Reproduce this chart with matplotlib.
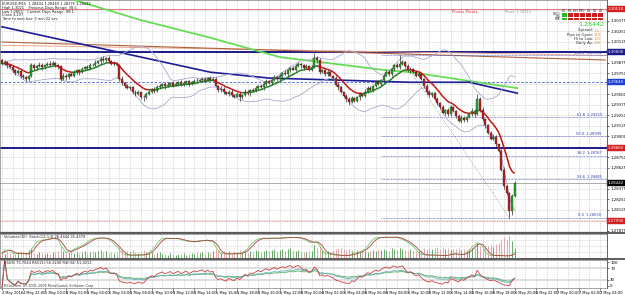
import numpy as np
import pandas as pd
import matplotlib
matplotlib.use("Agg")
import matplotlib.pyplot as plt
from matplotlib.collections import LineCollection
from matplotlib.patches import Rectangle

# prices are stored as pips above 1.2800
BASE = 1.2800
PIP = 0.0001

first_open = 190
closes = [
    186, 188, 184, 182, 178, 175, 177, 172, 170, 168,
    171, 184, 181, 183, 185, 182, 184, 186, 185, 187,
    184, 183, 168, 172, 170, 174, 172, 176, 178, 176,
    180, 182, 181, 185, 184, 187, 189, 192, 190, 193,
    189, 186, 187, 184, 168, 163, 160, 157, 158, 153,
    150, 152, 147, 146, 150, 153, 156, 154, 158, 160,
    162, 159, 161, 163, 160, 162, 164, 161, 163, 165,
    162, 164, 166, 165, 167, 168, 166, 169, 167, 168,
    160, 155, 156, 152, 150, 153, 149, 147, 150, 146,
    149, 153, 151, 155, 154, 157, 160, 158, 162, 165,
    163, 167, 170, 168, 172, 175, 174, 178, 181, 179,
    183, 186, 184, 181, 183, 179, 182, 193, 190, 176,
    178, 174, 176, 172, 169, 161, 158, 152, 148, 144,
    141, 145, 142, 146, 150, 148, 153, 157, 155, 160,
    164, 162, 167, 172, 176, 174, 180, 184, 182, 186,
    188, 183, 178, 180, 176, 172, 174, 168, 160, 152,
    149, 151, 144, 139, 134, 128, 131, 126, 134, 130,
    124, 118, 122, 119, 123, 126, 130, 126, 144, 131,
    120, 113, 104, 97, 99, 90, 82, 60, 40, 32,
    11, 29, 44,
]
upper_wick = [
    2, 3, 1, 2, 1, 2, 3, 1, 2, 1,
    2, 3, 2, 1, 3, 2, 1, 2, 3, 2,
    1, 2, 1, 3, 2, 1, 2, 3, 1, 2,
    2, 1, 3, 2, 1, 3, 2, 2, 3, 1,
    2, 1, 2, 1, 2, 3, 1, 2, 2, 1,
    2, 3, 1, 2, 3, 2, 1, 2, 3, 2,
    1, 2, 3, 1, 2, 2, 1, 3, 2, 1,
    2, 1, 2, 3, 1, 2, 2, 1, 3, 2,
    2, 1, 3, 2, 1, 2, 3, 1, 2, 2,
    1, 3, 2, 1, 2, 3, 1, 2, 2, 3,
    2, 1, 3, 2, 2, 1, 3, 2, 1, 2,
    3, 2, 1, 2, 3, 2, 2, 6, 2, 3,
    2, 1, 3, 2, 1, 2, 3, 2, 1, 2,
    2, 3, 1, 2, 2, 1, 3, 2, 2, 1,
    2, 3, 1, 2, 3, 2, 1, 2, 3, 10,
    2, 1, 3, 2, 1, 2, 3, 2, 1, 2,
    3, 2, 1, 2, 2, 3, 1, 2, 3, 2,
    1, 2, 3, 2, 1, 2, 3, 2, 6, 2,
    3, 2, 1, 2, 3, 2, 1, 2, 3, 2,
    1, 2, 3,
]
lower_wick = [
    1, 2, 3, 1, 2, 2, 1, 3, 2, 2,
    3, 1, 2, 2, 1, 3, 2, 1, 2, 1,
    2, 3, 2, 1, 3, 2, 1, 2, 2, 3,
    1, 2, 2, 3, 1, 2, 1, 3, 2, 2,
    1, 2, 3, 1, 2, 2, 3, 1, 2, 3,
    2, 1, 3, 4, 2, 1, 2, 3, 1, 2,
    2, 3, 1, 2, 2, 1, 3, 2, 1, 2,
    3, 1, 2, 2, 1, 3, 2, 1, 2, 2,
    1, 2, 3, 2, 1, 2, 3, 2, 1, 4,
    2, 1, 2, 3, 1, 2, 2, 1, 3, 2,
    1, 2, 2, 3, 1, 2, 1, 3, 2, 1,
    2, 1, 3, 2, 1, 2, 2, 1, 3, 2,
    1, 3, 2, 1, 2, 2, 3, 1, 2, 3,
    4, 2, 1, 2, 3, 1, 2, 2, 1, 3,
    2, 1, 3, 2, 1, 2, 2, 3, 1, 2,
    1, 2, 2, 3, 1, 2, 2, 1, 3, 2,
    2, 3, 1, 2, 2, 1, 3, 2, 2, 1,
    2, 1, 3, 2, 2, 1, 2, 3, 1, 2,
    2, 3, 1, 2, 2, 3, 1, 2, 3, 2,
    8, 5, 2,
]
volumes = [
    22, 18, 25, 20, 30, 15, 24, 28, 19, 26,
    35, 40, 22, 18, 25, 20, 16, 22, 18, 24,
    26, 30, 48, 28, 22, 25, 30, 20, 26, 22,
    24, 28, 21, 26, 30, 24, 28, 32, 25, 30,
    22, 26, 20, 24, 45, 35, 30, 28, 24, 32,
    26, 22, 30, 34, 25, 20, 24, 18, 22, 26,
    15, 18, 14, 20, 16, 12, 18, 15, 20, 14,
    16, 22, 18, 25, 20, 24, 18, 26, 22, 28,
    38, 32, 26, 30, 24, 28, 22, 30, 26, 32,
    24, 28, 22, 30, 26, 32, 28, 24, 30, 34,
    28, 32, 36, 30, 34, 38, 30, 36, 40, 32,
    30, 34, 28, 26, 24, 30, 28, 55, 40, 50,
    34, 28, 30, 26, 32, 38, 42, 40, 36, 34,
    38, 30, 28, 32, 26, 30, 28, 24, 30, 34,
    30, 36, 32, 38, 34, 30, 40, 36, 32, 42,
    38, 34, 30, 36, 32, 30, 28, 34, 40, 36,
    42, 38, 40, 44, 38, 46, 36, 40, 34, 38,
    36, 42, 34, 38, 32, 36, 40, 44, 62, 50,
    46, 52, 48, 55, 44, 58, 62, 80, 88, 76,
    95, 70, 40,
]

# long moving averages (values read at a few bars)
green_ma_bars = [0, 27, 52, 78, 104, 142, 153, 193]
green_ma_pips = [300, 262, 238, 217, 194, 179, 176, 157]
blue_ma_bars = [0, 78, 100, 153, 175, 193]
blue_ma_pips = [230, 176, 169, 164, 164, 151]

trend_bars = [0, 226]
trend_brown = [1.30119, 1.29905]
trend_salmon = [1.30080, 1.29960]

pivot_level = 1.30510
round_level = 1.30000
dashed_level = 1.29640
support_level = 1.28860
low_level = 1.27990
bid = 1.28442

fib_start_bar, fib_end_bar = 149, 190
fib_high, fib_low = 1.29960, 1.28030
fib_ratios = [0.0, 23.6, 38.2, 50.0, 61.8, 100.0]

time_labels = [
    "4 May 2016", "4 May 22:00", "5 May 00:00", "5 May 02:00", "5 May 04:00",
    "5 May 06:00", "5 May 08:00", "5 May 10:00", "5 May 12:00", "5 May 14:00",
    "5 May 16:00", "5 May 18:00", "5 May 20:00", "5 May 22:00", "6 May 00:00",
    "6 May 02:00", "6 May 04:00", "6 May 06:00", "6 May 08:00", "6 May 10:00",
    "6 May 12:00", "6 May 14:00", "6 May 16:00", "6 May 18:00", "6 May 20:00",
    "6 May 22:00", "7 May 00:00", "7 May 02:00", "7 May 04:00",
]

# ---- derived series
c = BASE + np.array(closes) * PIP
o = np.concatenate([[BASE + first_open * PIP], c[:-1]])
h = np.maximum(o, c) + np.array(upper_wick) * PIP
l = np.minimum(o, c) - np.array(lower_wick) * PIP
n = len(c)
idx = np.arange(n)
cs = pd.Series(c)

ema = cs.ewm(span=10, adjust=False).mean().values
mid = cs.rolling(20, min_periods=2).mean()
sd = cs.rolling(20, min_periods=2).std(ddof=0)
bb_up, bb_dn = (mid + 2 * sd).values, (mid - 2 * sd).values

lo_n = pd.Series(l).rolling(12, min_periods=1).min()
hi_n = pd.Series(h).rolling(12, min_periods=1).max()
k_raw = 100 * (cs - lo_n) / (hi_n - lo_n)
stoch_k = k_raw.rolling(3, min_periods=1).mean()
stoch_d = stoch_k.rolling(3, min_periods=1).mean()


def rsi(s, period):
    d = s.diff().fillna(0)
    up = d.clip(lower=0).ewm(alpha=1 / period, adjust=False).mean()
    dn = (-d.clip(upper=0)).ewm(alpha=1 / period, adjust=False).mean()
    return 100 - 100 / (1 + up / dn.replace(0, 1e-9))


rsi_fast, rsi_mid, rsi_slow = rsi(cs, 8), rsi(cs, 21), rsi(cs, 34)

# ---- layout in pixels
W, H = 625, 295
fig = plt.figure(figsize=(6.25, 2.95), dpi=100)
fig.patch.set_facecolor("white")


def box(x0, y0, x1, y1):
    return [x0 / W, 1 - y1 / H, (x1 - x0) / W, (y1 - y0) / H]


ax = fig.add_axes(box(0, 0, 607, 232))
axv = fig.add_axes(box(0, 234, 607, 258))
axr = fig.add_axes(box(0, 260, 607, 288))

XMIN, XMAX = -0.75, 226.6
grid_kw = dict(color="#b8b8b8", linestyle=(0, (1, 1.5)), linewidth=0.5)
vgrid = np.arange(0, XMAX, 4)

for a in (ax, axv, axr):
    a.set_xlim(XMIN, XMAX)
    a.set_xticks([])
    a.yaxis.set_ticks_position("right")
    a.tick_params(axis="y", labelsize=2.8, length=1.5, width=0.4, pad=0.8, colors="black")
    for s in a.spines.values():
        s.set_linewidth(0.5)
        s.set_color("#808080")
    for gx in vgrid:
        a.axvline(gx, zorder=0, **grid_kw)

# ---- main price window
YMIN, YMAX = 1.27858, 1.30619
ax.set_ylim(YMIN, YMAX)
boxes = [(pivot_level, "#d02020"), (round_level, "#1a1a8a"), (dashed_level, "#2040d0"),
         (support_level, "#d02020"), (bid, "#000000"), (low_level, "#d02020")]
pt = np.arange(1.27875, YMAX, 0.00125)
for gy in pt:
    ax.axhline(gy, zorder=0, **grid_kw)
shown = [v for v in pt if min(abs(v - b) for b, _ in boxes) > 0.0006 and v < YMAX - 0.0003]
ax.set_yticks(shown)
ax.set_yticklabels([f"{v:.5f}" for v in shown])

# levels
ax.axhline(pivot_level, color="#e06060", linewidth=0.6, zorder=1)
ax.axhline(round_level, color="#1a1a8a", linewidth=1.4, zorder=2)
ax.axhline(dashed_level, color="#4060d0", linewidth=0.6, linestyle=(0, (3, 2)), zorder=2)
ax.axhline(support_level, color="#1a1a8a", linewidth=1.4, zorder=2)
ax.axhline(low_level, color="#e07070", linewidth=0.6, linestyle=(0, (1, 1)), zorder=2)
ax.axhline(bid, color="#a0a0a0", linewidth=0.6, zorder=1)

ax.plot(trend_bars, trend_salmon, color="#e8a890", linewidth=0.7, zorder=2)
ax.plot(trend_bars, trend_brown, color="#b0603c", linewidth=0.8, zorder=2)

ax.plot(green_ma_bars, BASE + np.array(green_ma_pips) * PIP, color="#66dd55", linewidth=1.3, zorder=3)
ax.plot(blue_ma_bars, BASE + np.array(blue_ma_pips) * PIP, color="#1c1c96", linewidth=1.2, zorder=3)

ax.plot(idx, bb_up, color="#aeaed0", linewidth=0.65, zorder=3)
ax.plot(idx, bb_dn, color="#aeaed0", linewidth=0.65, zorder=3)

# fibonacci
ax.plot([fib_start_bar, fib_end_bar], [fib_high, fib_low], color="#808080",
        linewidth=0.5, linestyle=(0, (1, 1.5)), zorder=3)
for r in fib_ratios:
    lv = fib_low + r / 100 * (fib_high - fib_low)
    ax.plot([142, XMAX], [lv, lv], color="#4050c0", linewidth=0.5,
            linestyle=(0, (1, 1)), zorder=2)
    ax.text(224.5, lv + 0.00008, f"{r:.1f}  {lv:.5f}", fontsize=2.6, color="#3040b0",
            ha="right", va="bottom", zorder=6)

# candles
up = c >= o
ax.vlines(idx, l, h, color="#303030", linewidth=0.5, zorder=4)
body_lo = np.minimum(o, c)
body_h = np.maximum(np.abs(c - o), 0.00003)
ax.bar(idx, body_h, bottom=body_lo, width=0.74,
       color=np.where(up, "#22b022", "#c81e1e"), edgecolor="#202020", linewidth=0.25, zorder=5)

# coloured fast MA
pts = np.column_stack([idx, ema]).reshape(-1, 1, 2)
segs = np.concatenate([pts[:-1], pts[1:]], axis=1)
seg_col = np.where(np.diff(ema) >= 0, "#1e7a1e", "#c01010")
ax.add_collection(LineCollection(segs, colors=seg_col, linewidths=1.1, zorder=6))

# price boxes on the axis
for val, col in boxes:
    ax.text(1.001, val, f"{val:.5f}", transform=ax.get_yaxis_transform(), fontsize=2.8,
            color="white", va="center", ha="left", clip_on=False, zorder=10,
            bbox=dict(boxstyle="square,pad=0.25", facecolor=col, edgecolor=col, linewidth=0.3))

# ---- volume window
axv.set_ylim(0, 100)
axv.vlines(idx, 0, volumes, colors=np.where(up, "#4d9a4d", "#e39a9a"), linewidth=0.6, zorder=2)
axv.set_yticks([6, 90])
axv.set_yticklabels(["0", "12.94"])
axs = axv.twinx()
axs.set_ylim(-8, 108)
axs.set_xlim(XMIN, XMAX)
axs.axis("off")
axs.plot(idx, stoch_k, color="#70d070", linewidth=0.6)
axs.plot(idx, stoch_d, color="#b04040", linewidth=0.6)
for gy in (25, 50, 75):
    axv.axhline(gy, zorder=0, **grid_kw)

# ---- RSI window
axr.set_ylim(0, 100)
axr.set_yticks([8, 30, 70, 92])
axr.set_yticklabels(["0", "30", "70", "100"])
axr.axhline(70, color="#d8d8d8", linewidth=1.2, zorder=1)
axr.axhline(30, color="#d8d8d8", linewidth=1.2, zorder=1)
axr.plot(idx, rsi_slow, color="#60b060", linewidth=0.6, zorder=3)
axr.plot(idx, rsi_mid, color="#60b0b8", linewidth=0.6, zorder=3)
axr.plot(idx, rsi_fast, color="#c84040", linewidth=0.6, zorder=4)

# time labels
tick_bars = np.arange(0, 8 * len(time_labels), 8)
axr.set_xticks(tick_bars)
axr.set_xticklabels(time_labels, fontsize=2.6, ha="left")
axr.tick_params(axis="x", length=1.2, width=0.4, pad=0.8)

# ---- overlay for separators, texts, info panel
ov = fig.add_axes([0, 0, 1, 1])
ov.set_xlim(0, W)
ov.set_ylim(H, 0)
ov.axis("off")
ov.patch.set_alpha(0)
for y in (232.8, 258.8):
    ov.plot([0, W], [y, y], color="#505050", linewidth=1.3)
ov.plot([607, 607], [0, 288], color="#505050", linewidth=0.5)

info = ["EURUSD,M15  1.28404 1.28469 1.28376 1.28442",
        "High 1.3021    Previous Days Range: 38.5",
        "Low 1.2803    Current Days Range: 98.1",
        "Close 1.297",
        "Time to next bar: 3 min 22 sec"]
for i, s in enumerate(info):
    ov.text(2, 2 + i * 3.8, s, fontsize=2.6, color="#202020", va="top", ha="left")

ov.text(452, 12, "Pivots Pivots", fontsize=3, color="#d03030", va="center")
ov.text(505, 12, "Pivot: 1.30512", fontsize=2.6, color="#909090", va="center")

tfs = ["M1", "M5", "M15", "M30", "H1", "H4", "D1"]
rows = ["MACD", "STR", "EMA"]
for j, tf in enumerate(tfs):
    ov.text(564 + j * 6.1, 10.5, tf, fontsize=2.2, color="#303030", ha="center", va="center")
for r, name in enumerate(rows):
    ov.text(560.5, 14 + r * 2.5, name, fontsize=1.8, color="#303030", ha="right", va="center")
    for j in range(len(tfs)):
        col = "#22bb22" if j == 0 else "#cc2020"
        ov.add_patch(Rectangle((561.5 + j * 6.1, 12.9 + r * 2.5), 5.3, 2.1,
                               facecolor=col, edgecolor="none"))
ov.text(604, 24.5, "1.28442", fontsize=4.6, color="#33cc33", ha="right", va="center")
panel = [("Spread: ", "1.5"), ("Pips to Open: ", "118"), ("Hi to Low: ", "102"), ("Daily Av: ", "106")]
for i, (lab, val) in enumerate(panel):
    ov.text(594, 30.5 + i * 4.2, lab, fontsize=2.8, color="#303030", ha="right", va="center")
    ov.text(594, 30.5 + i * 4.2, val, fontsize=2.8, color="#e0a040", ha="left", va="center")

ov.text(4, 237.5, "Volumes(30)  Stoch(12,3,3) 26.4444 35.4379", fontsize=2.6,
        color="#202020", va="center")
ov.text(4, 263, "RSI(8) 73.7044 RSI(21) 56.2240 RSI(34) 51.4213", fontsize=2.6,
        color="#202020", va="center")
ov.text(4, 285.5, "RSIcurrent (c) 2001-2009 MetaQuotes Software Corp.", fontsize=2.4,
        color="#404040", va="center")

fig.savefig("out.png", dpi=100)
